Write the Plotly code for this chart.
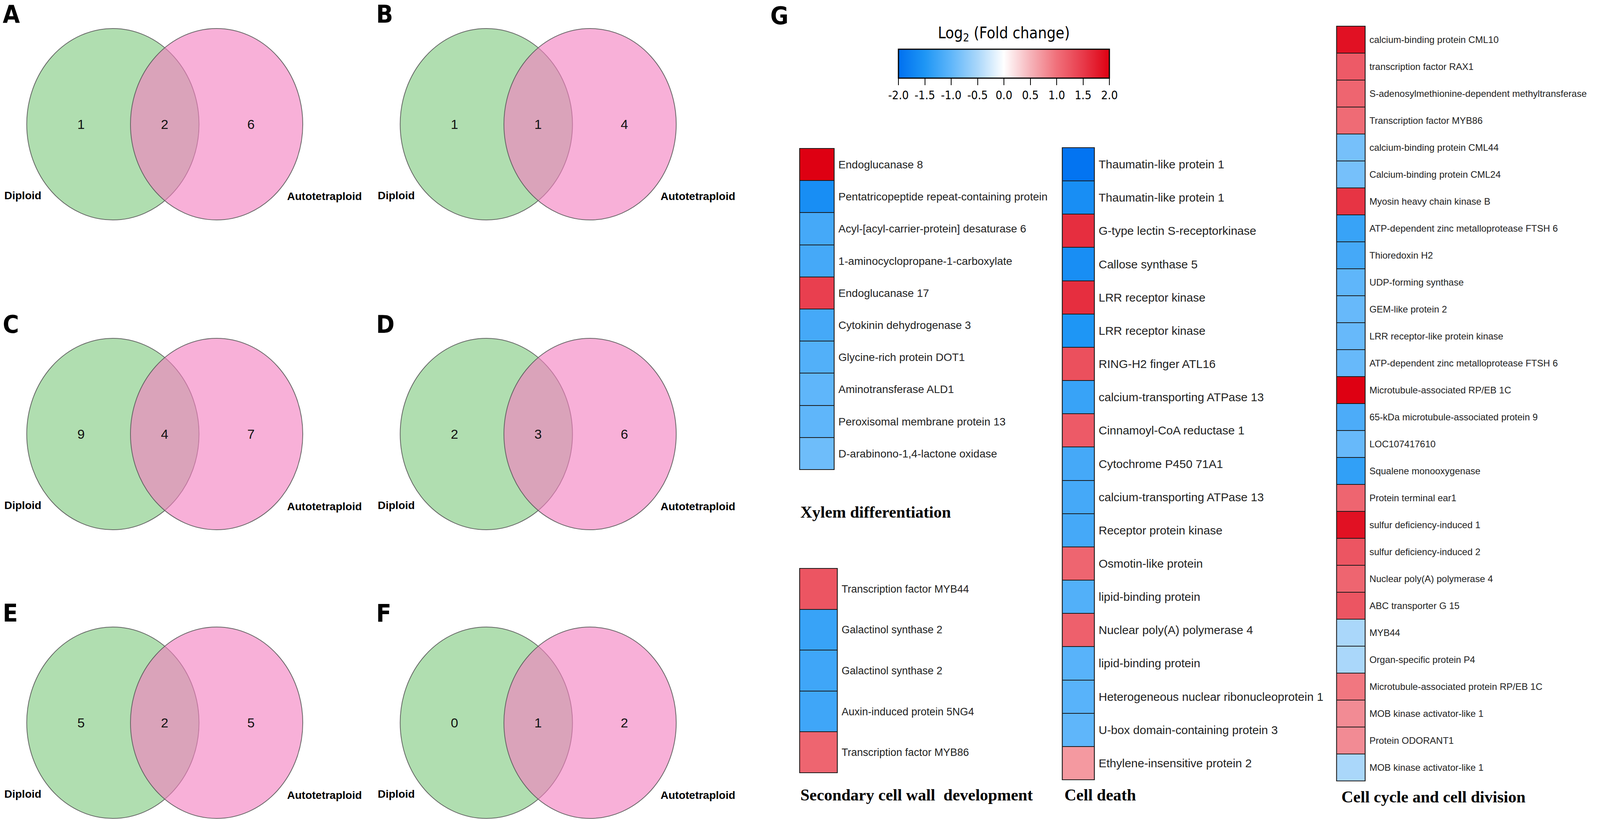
import plotly.graph_objects as go

# reference frame (all positions below are measured in the 4550 x 2099 reference)
W, H = 4550, 2099
# the browser screen used for the picture is 4096 px wide, so the figure is drawn at that width
OUT_W, OUT_H = 4096, 2099
FS = 0.95  # font scale to compensate the horizontal compression

# ---------------- data ----------------
venn_panels = ["A", "B", "C", "D", "E", "F"]
diploid_only = [1, 1, 9, 2, 5, 0]
shared = [2, 1, 4, 3, 2, 1]
autotetraploid_only = [6, 4, 7, 6, 5, 2]

xylem_labels = ["Endoglucanase 8", "Pentatricopeptide repeat-containing protein",
                "Acyl-[acyl-carrier-protein] desaturase 6", "1-aminocyclopropane-1-carboxylate",
                "Endoglucanase 17", "Cytokinin dehydrogenase 3", "Glycine-rich protein DOT1",
                "Aminotransferase ALD1", "Peroxisomal membrane protein 13",
                "D-arabinono-1,4-lactone oxidase"]
xylem_values = [2.0, -1.6, -1.2, -1.2, 1.45, -1.2, -1.1, -1.0, -1.0, -0.9]

secondary_labels = ["Transcription factor MYB44", "Galactinol synthase 2", "Galactinol synthase 2",
                    "Auxin-induced protein 5NG4", "Transcription factor MYB86"]
secondary_values = [1.25, -1.3, -1.25, -1.25, 1.1]

death_labels = ["Thaumatin-like protein 1", "Thaumatin-like protein 1", "G-type lectin S-receptorkinase",
                "Callose synthase 5", "LRR receptor kinase", "LRR receptor kinase", "RING-H2 finger ATL16",
                "calcium-transporting ATPase 13", "Cinnamoyl-CoA reductase 1", "Cytochrome P450 71A1",
                "calcium-transporting ATPase 13", "Receptor protein kinase", "Osmotin-like protein",
                "lipid-binding protein", "Nuclear poly(A) polymerase 4", "lipid-binding protein",
                "Heterogeneous nuclear ribonucleoprotein 1", "U-box domain-containing protein 3",
                "Ethylene-insensitive protein 2"]
death_values = [-1.95, -1.6, 1.6, -1.6, 1.6, -1.5, 1.3, -1.3, 1.2, -1.2, -1.2, -1.2, 1.1, -1.1,
                1.15, -1.05, -1.05, -1.0, 0.7]

cycle_labels = ["calcium-binding protein CML10", "transcription factor RAX1",
                "S-adenosylmethionine-dependent methyltransferase", "Transcription factor MYB86",
                "calcium-binding protein CML44", "Calcium-binding protein CML24", "Myosin heavy chain kinase B",
                "ATP-dependent zinc metalloprotease FTSH 6", "Thioredoxin H2", "UDP-forming synthase",
                "GEM-like protein 2", "LRR receptor-like protein kinase",
                "ATP-dependent zinc metalloprotease FTSH 6", "Microtubule-associated RP/EB 1C",
                "65-kDa microtubule-associated protein 9", "LOC107417610", "Squalene monooxygenase",
                "Protein terminal ear1", "sulfur deficiency-induced 1", "sulfur deficiency-induced 2",
                "Nuclear poly(A) polymerase 4", "ABC transporter G 15", "MYB44", "Organ-specific protein P4",
                "Microtubule-associated protein RP/EB 1C", "MOB kinase activator-like 1", "Protein ODORANT1",
                "MOB kinase activator-like 1"]
cycle_values = [1.85, 1.2, 1.1, 1.05, -0.85, -0.85, 1.55, -1.3, -1.2, -1.0, -0.95, -0.95, -0.95, 2.0,
                -1.15, -0.95, -1.35, 1.1, 1.85, 1.25, 1.1, 1.25, -0.5, -0.5, 0.95, 0.8, 0.8, -0.5]

colorbar_ticks = [-2.0, -1.5, -1.0, -0.5, 0.0, 0.5, 1.0, 1.5, 2.0]

# ---------------- helpers ----------------
def fx(x):
    return x / W


def fy(y):
    return 1 - y / H


def fs(s):
    return round(s * FS)


NARROW = "Liberation Sans Narrow, DejaVu Sans Condensed, Roboto Condensed, Liberation Sans, Arial"

colorscale = [
    [0.0, "rgb(0,112,240)"], [0.125, "rgb(30,150,245)"], [0.25, "rgb(95,182,250)"],
    [0.375, "rgb(170,215,250)"], [0.5, "rgb(255,255,255)"], [0.625, "rgb(246,180,186)"],
    [0.75, "rgb(240,112,122)"], [0.875, "rgb(232,58,74)"], [1.0, "rgb(222,0,18)"],
]

fig = go.Figure()
shapes = []
annotations = []

# ---------------- Venn diagrams ----------------
col_green = [321, 1383]
col_pink = [616, 1678]
row_cy = [318, 1111, 1850]
R = 245
GREEN = "rgb(176,222,176)"
PINK = "rgba(244,127,192,0.62)"
num_font = dict(family="Liberation Sans, Arial", size=fs(36), color="#111")
lab_font = dict(family="Liberation Sans, Arial", size=fs(30), color="#000")
letter_font = dict(family=NARROW, size=fs(66), color="#000")

for i, p in enumerate(venn_panels):
    c = i % 2
    r = i // 2
    gx, pxc, cy = col_green[c], col_pink[c], row_cy[r]
    for cx, fill in ((gx, GREEN), (pxc, PINK)):
        shapes.append(dict(type="circle", xref="paper", yref="paper",
                           x0=fx(cx - R), x1=fx(cx + R), y0=fy(cy + R), y1=fy(cy - R),
                           fillcolor=fill, line=dict(color="rgba(90,90,90,0.9)", width=2), layer="above"))
    vals = [diploid_only[i], shared[i], autotetraploid_only[i]]
    xs = [gx - 91, (gx + pxc) / 2, pxc + 98]
    for v, xx in zip(vals, xs):
        annotations.append(dict(x=fx(xx), y=fy(cy), xref="paper", yref="paper", text=str(v),
                                showarrow=False, font=num_font, xanchor="center", yanchor="middle"))
    annotations.append(dict(x=fx(10 + c * 1062), y=fy(cy + 182), xref="paper", yref="paper",
                            text="<b>Diploid</b>", showarrow=False, font=lab_font,
                            xanchor="left", yanchor="middle"))
    annotations.append(dict(x=fx(pxc + 198), y=fy(cy + 185), xref="paper", yref="paper",
                            text="<b>Autotetraploid</b>", showarrow=False, font=lab_font,
                            xanchor="left", yanchor="middle"))
    annotations.append(dict(x=fx(5 + c * 1062), y=fy(cy - 281), xref="paper", yref="paper",
                            text="<b>%s</b>" % p, showarrow=False, font=letter_font,
                            xanchor="left", yanchor="middle"))

annotations.append(dict(x=fx(2188), y=fy(40), xref="paper", yref="paper", text="<b>G</b>",
                        showarrow=False, font=letter_font, xanchor="left", yanchor="middle"))

# ---------------- Heatmaps ----------------
panels = [
    dict(labels=xylem_labels, values=xylem_values, x0=2274, x1=2372, y0=380, y1=1202, fs=30,
         title="Xylem differentiation", tx=2274, ty=1311),
    dict(labels=secondary_labels, values=secondary_values, x0=2274, x1=2381, y0=1455, y1=1978, fs=28,
         title="Secondary cell wall  development", tx=2274, ty=2035),
    dict(labels=death_labels, values=death_values, x0=3021, x1=3112, y0=378, y1=1996, fs=32,
         title="Cell death", tx=3025, ty=2035),
    dict(labels=cycle_labels, values=cycle_values, x0=3801, x1=3882, y0=67, y1=1999, fs=25,
         title="Cell cycle and cell division", tx=3812, ty=2040),
]

layout_axes = {}
for k, pnl in enumerate(panels, start=1):
    n = len(pnl["values"])
    suf = "" if k == 1 else str(k)
    xa, ya = "x" + suf, "y" + suf
    fig.add_trace(go.Heatmap(
        z=[[v] for v in pnl["values"]], x=[0], y=list(range(n)),
        coloraxis="coloraxis", xaxis=xa, yaxis=ya, ygap=2,
        hovertext=[[lab] for lab in pnl["labels"]], hoverinfo="text+z",
    ))
    layout_axes["xaxis" + suf] = dict(domain=[fx(pnl["x0"]), fx(pnl["x1"])], range=[-0.5, 0.5],
                                      showticklabels=False, showgrid=False, zeroline=False,
                                      anchor=ya, fixedrange=True)
    layout_axes["yaxis" + suf] = dict(domain=[fy(pnl["y1"]), fy(pnl["y0"])], range=[n - 0.5, -0.5],
                                      tickmode="array", tickvals=list(range(n)), ticktext=pnl["labels"],
                                      side="right", ticks="", ticklabelstandoff=10,
                                      tickfont=dict(family="Liberation Sans, Arial", size=fs(pnl["fs"]),
                                                    color="#222"),
                                      showgrid=False, zeroline=False, anchor=xa, fixedrange=True)
    shapes.append(dict(type="rect", xref=xa + " domain", yref=ya + " domain", x0=0, x1=1, y0=0, y1=1,
                       fillcolor="#1a1a1a", line=dict(color="#1a1a1a", width=2), layer="below"))
    shapes.append(dict(type="rect", xref=xa + " domain", yref=ya + " domain", x0=0, x1=1, y0=0, y1=1,
                       fillcolor="rgba(0,0,0,0)", line=dict(color="#1a1a1a", width=2), layer="above"))
    annotations.append(dict(x=fx(pnl["tx"]), y=fy(pnl["ty"]), xref="paper", yref="paper",
                            text="<b>%s</b>" % pnl["title"], showarrow=False,
                            font=dict(family="Liberation Serif, Times New Roman", size=fs(44), color="#000"),
                            xanchor="left", yanchor="middle"))

# colorbar title
cb_x0, cb_x1 = 2555, 3155
annotations.append(dict(x=fx((cb_x0 + cb_x1) / 2), y=fy(87), xref="paper", yref="paper",
                        text="Log<sub>2</sub> (Fold change)", showarrow=False,
                        font=dict(family=NARROW, size=fs(42), color="#000"),
                        xanchor="center", yanchor="middle"))

fig.update_layout(
    width=OUT_W, height=OUT_H,
    margin=dict(l=0, r=0, t=0, b=0),
    paper_bgcolor="white", plot_bgcolor="white",
    showlegend=False,
    coloraxis=dict(
        cmin=-2, cmax=2, colorscale=colorscale,
        colorbar=dict(
            orientation="h", x=fx((cb_x0 + cb_x1) / 2), xanchor="center", y=fy(126), yanchor="top",
            lenmode="fraction", len=(cb_x1 - cb_x0) / W, thickness=74, thicknessmode="pixels",
            xpad=0, ypad=0,
            outlinecolor="#000", outlinewidth=3,
            tickmode="array", tickvals=colorbar_ticks, ticktext=["%.1f" % t for t in colorbar_ticks],
            ticks="outside", ticklen=17, tickwidth=2, tickcolor="#000",
            tickfont=dict(family=NARROW, size=30, color="#000"),
        ),
    ),
    shapes=shapes,
    annotations=annotations,
    **layout_axes,
)

post = """
document.body.style.margin = '0';
document.body.style.overflow = 'hidden';
"""

fig.write_html("out.html", post_script=post, config={"displayModeBar": False})
